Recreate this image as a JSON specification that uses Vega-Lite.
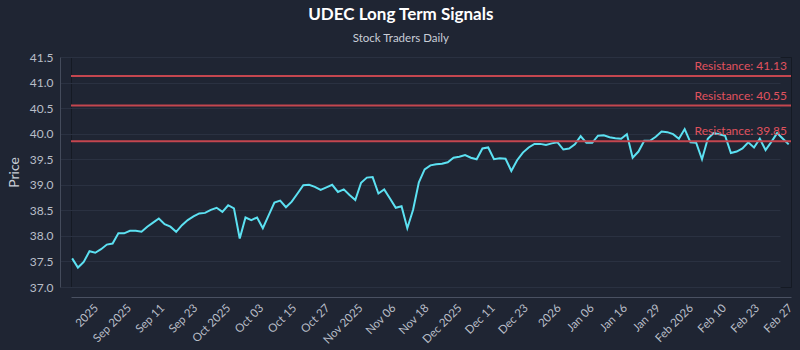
{
  "$schema": "https://vega.github.io/schema/vega-lite/v6.json",
  "autosize": {"type": "none"},
  "width": 720,
  "height": 230,
  "padding": {"left": 71, "top": 57, "right": 9, "bottom": 63},
  "background": "#1f2533",
  "title": {
    "text": "UDEC Long Term Signals",
    "subtitle": "Stock Traders Daily",
    "anchor": "middle",
    "frame": "bounds",
    "font": "Lato",
    "fontSize": 17,
    "fontWeight": "bold",
    "color": "#ffffff",
    "subtitleFont": "Lato",
    "subtitleFontSize": 11.5,
    "subtitleColor": "#c9ced8",
    "subtitlePadding": 9,
    "offset": 6
  },
  "datasets": {
    "prices": [
      {"session": 0, "price": 37.56}, {"session": 1, "price": 37.38}, {"session": 2, "price": 37.49}, {"session": 3, "price": 37.70},
      {"session": 4, "price": 37.67}, {"session": 5, "price": 37.74}, {"session": 6, "price": 37.83}, {"session": 7, "price": 37.85},
      {"session": 8, "price": 38.05}, {"session": 9, "price": 38.05}, {"session": 10, "price": 38.10}, {"session": 11, "price": 38.10},
      {"session": 12, "price": 38.08}, {"session": 13, "price": 38.18}, {"session": 14, "price": 38.26}, {"session": 15, "price": 38.34},
      {"session": 16, "price": 38.23}, {"session": 17, "price": 38.18}, {"session": 18, "price": 38.08}, {"session": 19, "price": 38.21},
      {"session": 20, "price": 38.31}, {"session": 21, "price": 38.38}, {"session": 22, "price": 38.44}, {"session": 23, "price": 38.45},
      {"session": 24, "price": 38.51}, {"session": 25, "price": 38.55}, {"session": 26, "price": 38.47}, {"session": 27, "price": 38.60},
      {"session": 28, "price": 38.54}, {"session": 29, "price": 37.95}, {"session": 30, "price": 38.36}, {"session": 31, "price": 38.31},
      {"session": 32, "price": 38.36}, {"session": 33, "price": 38.15}, {"session": 34, "price": 38.40}, {"session": 35, "price": 38.65},
      {"session": 36, "price": 38.69}, {"session": 37, "price": 38.56}, {"session": 38, "price": 38.67}, {"session": 39, "price": 38.83},
      {"session": 40, "price": 38.99}, {"session": 41, "price": 39.00}, {"session": 42, "price": 38.96}, {"session": 43, "price": 38.90},
      {"session": 44, "price": 38.95}, {"session": 45, "price": 39.00}, {"session": 46, "price": 38.86}, {"session": 47, "price": 38.91},
      {"session": 48, "price": 38.80}, {"session": 49, "price": 38.70}, {"session": 50, "price": 39.04}, {"session": 51, "price": 39.14},
      {"session": 52, "price": 39.15}, {"session": 53, "price": 38.83}, {"session": 54, "price": 38.91}, {"session": 55, "price": 38.73},
      {"session": 56, "price": 38.55}, {"session": 57, "price": 38.58}, {"session": 58, "price": 38.15}, {"session": 59, "price": 38.51},
      {"session": 60, "price": 39.05}, {"session": 61, "price": 39.30}, {"session": 62, "price": 39.38}, {"session": 63, "price": 39.40},
      {"session": 64, "price": 39.41}, {"session": 65, "price": 39.44}, {"session": 66, "price": 39.53}, {"session": 67, "price": 39.55},
      {"session": 68, "price": 39.58}, {"session": 69, "price": 39.53}, {"session": 70, "price": 39.50}, {"session": 71, "price": 39.71},
      {"session": 72, "price": 39.73}, {"session": 73, "price": 39.50}, {"session": 74, "price": 39.52}, {"session": 75, "price": 39.51},
      {"session": 76, "price": 39.27}, {"session": 77, "price": 39.48}, {"session": 78, "price": 39.63}, {"session": 79, "price": 39.73},
      {"session": 80, "price": 39.80}, {"session": 81, "price": 39.80}, {"session": 82, "price": 39.78}, {"session": 83, "price": 39.81},
      {"session": 84, "price": 39.83}, {"session": 85, "price": 39.69}, {"session": 86, "price": 39.71}, {"session": 87, "price": 39.79},
      {"session": 88, "price": 39.95}, {"session": 89, "price": 39.82}, {"session": 90, "price": 39.82}, {"session": 91, "price": 39.96},
      {"session": 92, "price": 39.97}, {"session": 93, "price": 39.93}, {"session": 94, "price": 39.91}, {"session": 95, "price": 39.90},
      {"session": 96, "price": 39.99}, {"session": 97, "price": 39.53}, {"session": 98, "price": 39.65}, {"session": 99, "price": 39.86},
      {"session": 100, "price": 39.86}, {"session": 101, "price": 39.94}, {"session": 102, "price": 40.04}, {"session": 103, "price": 40.03},
      {"session": 104, "price": 39.99}, {"session": 105, "price": 39.90}, {"session": 106, "price": 40.09}, {"session": 107, "price": 39.83},
      {"session": 108, "price": 39.82}, {"session": 109, "price": 39.50}, {"session": 110, "price": 39.90}, {"session": 111, "price": 40.01},
      {"session": 112, "price": 39.99}, {"session": 113, "price": 39.96}, {"session": 114, "price": 39.62}, {"session": 115, "price": 39.65},
      {"session": 116, "price": 39.71}, {"session": 117, "price": 39.83}, {"session": 118, "price": 39.73}, {"session": 119, "price": 39.90},
      {"session": 120, "price": 39.68}, {"session": 121, "price": 39.84}, {"session": 122, "price": 40.01}, {"session": 123, "price": 39.90},
      {"session": 124, "price": 39.79}
    ],
    "levels": [
      {"level": 41.13, "label": "Resistance: 41.13"},
      {"level": 40.55, "label": "Resistance: 40.55"},
      {"level": 39.85, "label": "Resistance: 39.85"}
    ]
  },
  "layer": [
    {
      "data": {"name": "prices"},
      "mark": {"type": "line", "color": "#5ce1f2", "strokeWidth": 2, "strokeJoin": "miter"},
      "encoding": {
        "x": {
          "field": "session",
          "type": "quantitative",
          "title": null,
          "scale": {"domain": [-0.2, 124.4], "nice": false, "zero": false},
          "axis": {
            "values": [3.46, 9.18, 14.9, 20.62, 26.34, 32.06, 37.78, 43.5, 49.22, 54.94, 60.66, 66.38, 72.1, 77.82, 83.54, 89.26, 94.98, 100.7, 106.42, 112.14, 117.86, 123.58],
            "labelExpr": "['2025','Sep 2025','Sep 11','Sep 23','Oct 2025','Oct 03','Oct 15','Oct 27','Nov 2025','Nov 06','Nov 18','Dec 2025','Dec 11','Dec 23','2026','Jan 06','Jan 16','Jan 29','Feb 2026','Feb 10','Feb 23','Feb 27'][round((datum.value - 3.46) / 5.72)]"
          }
        },
        "y": {
          "field": "price",
          "type": "quantitative",
          "title": "Price",
          "scale": {"domain": [37, 41.5], "nice": false, "zero": false},
          "axis": {"values": [37, 37.5, 38, 38.5, 39, 39.5, 40, 40.5, 41, 41.5], "format": ".1f", "labelOverlap": false}
        }
      }
    },
    {
      "data": {"name": "levels"},
      "mark": {"type": "rule", "color": "#c4464f", "strokeWidth": 2},
      "encoding": {
        "y": {"field": "level", "type": "quantitative", "title": "Price",
              "axis": {"values": [37, 37.5, 38, 38.5, 39, 39.5, 40, 40.5, 41, 41.5], "format": ".1f", "labelOverlap": false}}
      }
    },
    {
      "data": {"name": "levels"},
      "mark": {"type": "text", "align": "right", "baseline": "bottom", "dx": -4, "dy": -3, "color": "#e0525e", "font": "Lato", "fontSize": 12},
      "encoding": {
        "x": {"value": "width"},
        "y": {"field": "level", "type": "quantitative", "title": "Price",
              "axis": {"values": [37, 37.5, 38, 38.5, 39, 39.5, 40, 40.5, 41, 41.5], "format": ".1f", "labelOverlap": false}},
        "text": {"field": "label"}
      }
    }
  ],
  "config": {
    "view": {"stroke": "#151a24", "strokeWidth": 1},
    "axisY": {
      "offset": 11,
      "domainColor": "#444b5b",
      "ticks": false,
      "labelPadding": 7,
      "labelColor": "#b9bec8",
      "labelFont": "Lato",
      "labelFontSize": 12,
      "labelOverlap": false,
      "labelFlush": false,
      "titleFont": "Lato",
      "titleFontSize": 14,
      "titleFontWeight": "normal",
      "titleColor": "#c9ced8",
      "titlePadding": 8,
      "grid": true,
      "gridColor": "#2a3141",
      "gridWidth": 1
    },
    "axisX": {
      "offset": 10,
      "domainColor": "#4a5162",
      "ticks": false,
      "grid": false,
      "labelAngle": -45,
      "labelAlign": "right",
      "labelBaseline": "top",
      "labelPadding": 5,
      "labelColor": "#b9bec8",
      "labelFont": "Lato",
      "labelFontSize": 11.5,
      "labelOverlap": false,
      "labelFlush": false
    }
  }
}
